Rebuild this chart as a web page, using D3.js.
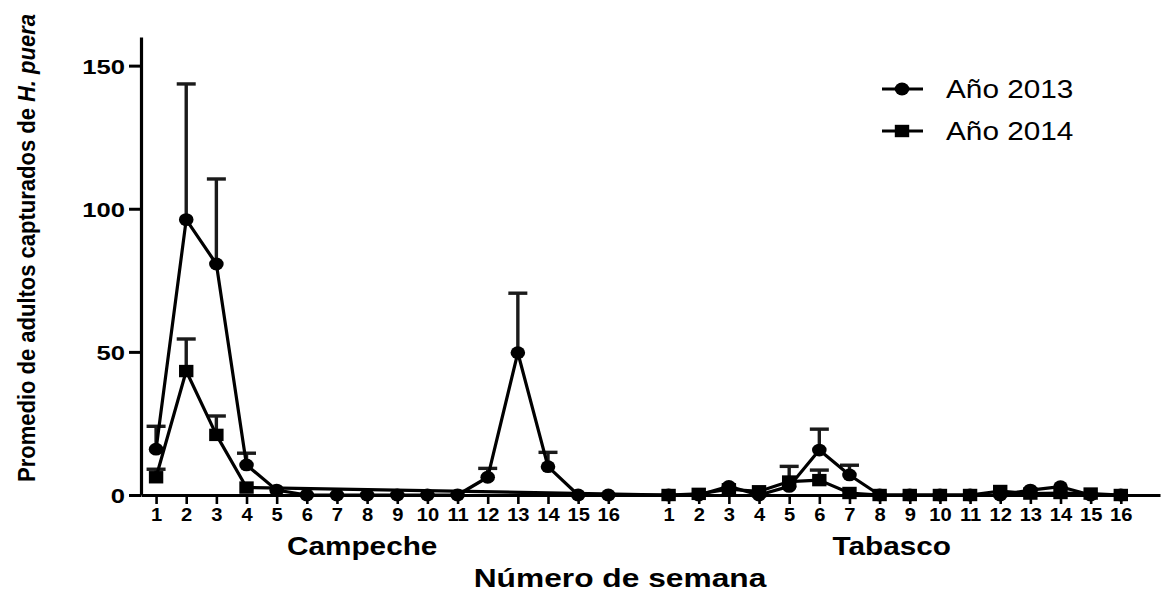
<!DOCTYPE html>
<html>
<head>
<meta charset="utf-8">
<script src="https://cdn.jsdelivr.net/npm/d3@7"></script>
<style>
  body { margin: 0; background: #fff; }
  svg { display: block; font-family: "Liberation Sans", Arial, sans-serif; }
</style>
</head>
<body>
<svg id="chart" width="1163" height="592"></svg>
<script>
// Weekly mean of adult H. puera captured, per site and year (mean and upper SE)
const weeks = [1, 2, 3, 4, 5, 6, 7, 8, 9, 10, 11, 12, 13, 14, 15, 16];
const sites = ["Campeche", "Tabasco"];
const years = ["Año 2013", "Año 2014"];

const campeche2013    = [16, 96.2, 80.7, 10.5, 1.7, 0, 0, 0, 0, 0, 0, 6.2, 49.7, 9.9, 0, 0];
const campeche2013Err = [8, 47.4, 29.7, 4.1, 0, 0, 0, 0, 0, 0, 0, 3.1, 20.8, 5, 0, 0];
const campeche2014    = [6.2, 43.3, 21, 2.6, null, null, null, null, null, null, null, null, null, null, null, null];
const campeche2014Err = [2.8, 11.2, 6.6, 0, 0, 0, 0, 0, 0, 0, 0, 0, 0, 0, 0, 0];

const tabasco2013    = [0, 0, 3, 0, 3, 15.7, 7, 0, 0, 0, 0, 0, 1.7, 2.9, 0, 0];
const tabasco2013Err = [0, 0, 0, 0, 0, 7.3, 3.4, 0, 0, 0, 0, 0, 0, 0, 0, 0];
const tabasco2014    = [0, 0.4, 2, 1.3, 4.7, 5.2, 0.7, 0, 0, 0, 0, 1.4, 0.5, 0.7, 0.5, 0];
const tabasco2014Err = [0, 0, 0, 0, 5.3, 3.5, 0, 0, 0, 0, 0, 0, 0, 0, 0, 0];

const yTicks = [0, 50, 100, 150];
const yTitle = "Promedio de adultos capturados de ";
const yTitleItalic = "H. puera";
const xTitle = "Número de semana";

// ---- layout ----
const svg = d3.select("#chart");
const FONT = '"Liberation Sans", Arial, sans-serif';
const WIDE = 1.19; // horizontal widening of the lettering

// position index: Campeche weeks 0..15, one empty slot, Tabasco weeks 17..32
const posIndex = (siteIdx, week) => siteIdx === 0 ? week - 1 : 16 + week;

const x = d3.scaleLinear().domain([-0.5, 33.3]).range([141, 1160]);
const y = d3.scaleLinear().domain([0, 160]).range([495, 37]);

// each year is one series running through both sites; missing weeks are skipped
function series(siteValues) {
  const pts = [];
  siteValues.forEach(([values, errs], si) => {
    weeks.forEach((w, i) => {
      if (values[i] !== null) pts.push({ i: posIndex(si, w), v: values[i], e: errs[i] });
    });
  });
  return pts;
}

const groups = [
  { year: 1, pts: series([[campeche2014, campeche2014Err], [tabasco2014, tabasco2014Err]]) },
  { year: 0, pts: series([[campeche2013, campeche2013Err], [tabasco2013, tabasco2013Err]]) }
];

// ---- axes ----
const allIdx = [];
sites.forEach((s, si) => weeks.forEach(w => allIdx.push(posIndex(si, w))));
const weekOf = i => i <= 15 ? i + 1 : i - 16;

const xAxis = svg.append("g")
  .attr("transform", `translate(0,${y(0)})`)
  .call(d3.axisBottom(x).tickValues(allIdx).tickSize(9).tickSizeOuter(0).tickFormat(d => weekOf(d)));
xAxis.select(".domain").attr("stroke", "#000").attr("stroke-width", 3.2);
xAxis.selectAll(".tick line").attr("stroke", "#000").attr("stroke-width", 2.6);
xAxis.selectAll(".tick text")
  .attr("y", 0).attr("dy", null)
  .attr("transform", `translate(0,26) scale(1.12,1)`)
  .attr("fill", "#000")
  .style("font", `bold 18px ${FONT}`);

const yAxis = svg.append("g")
  .attr("transform", `translate(${x(-0.5)},0)`)
  .call(d3.axisLeft(y).tickValues(yTicks).tickSize(12).tickSizeOuter(0));
yAxis.select(".domain").attr("stroke", "#000").attr("stroke-width", 3.2);
yAxis.selectAll(".tick line").attr("stroke", "#000").attr("stroke-width", 3);
yAxis.selectAll(".tick text")
  .attr("x", 0).attr("dy", null)
  .attr("transform", `translate(-16,7.5) scale(1.22,1)`)
  .attr("fill", "#000")
  .style("font", `bold 21px ${FONT}`);

// ---- error bars, lines and markers ----
const CAP = 19;
const line = d3.line().x(d => x(d.i)).y(d => y(d.v));

groups.forEach(g => {
  const gg = svg.append("g");
  const withErr = g.pts.filter(d => d.e > 0);
  gg.selectAll("line.stem").data(withErr).join("line")
    .attr("x1", d => x(d.i)).attr("x2", d => x(d.i))
    .attr("y1", d => y(d.v)).attr("y2", d => y(d.v + d.e))
    .attr("stroke", "#1a1a1a").attr("stroke-width", 3.4);
  gg.selectAll("line.cap").data(withErr).join("line")
    .attr("x1", d => x(d.i) - CAP / 2).attr("x2", d => x(d.i) + CAP / 2)
    .attr("y1", d => y(d.v + d.e)).attr("y2", d => y(d.v + d.e))
    .attr("stroke", "#1a1a1a").attr("stroke-width", 3.4);
  gg.append("path").datum(g.pts)
    .attr("d", line).attr("fill", "none")
    .attr("stroke", "#000").attr("stroke-width", 3.2).attr("stroke-linejoin", "round");
  if (g.year === 0) {
    gg.selectAll("ellipse").data(g.pts).join("ellipse")
      .attr("cx", d => x(d.i)).attr("cy", d => y(d.v))
      .attr("rx", 7.3).attr("ry", 6.4).attr("fill", "#000");
  } else {
    gg.selectAll("rect").data(g.pts).join("rect")
      .attr("x", d => x(d.i) - 7.2).attr("y", d => y(d.v) - 6.2)
      .attr("width", 14.4).attr("height", 12.4).attr("fill", "#000");
  }
});

// ---- legend ----
const legend = svg.append("g");
years.forEach((name, k) => {
  const ly = 89 + k * 42;
  legend.append("line").attr("x1", 882).attr("x2", 923).attr("y1", ly).attr("y2", ly)
    .attr("stroke", "#000").attr("stroke-width", 3.2);
  if (k === 0) {
    legend.append("ellipse").attr("cx", 902).attr("cy", ly).attr("rx", 7.3).attr("ry", 6.4).attr("fill", "#000");
  } else {
    legend.append("rect").attr("x", 902 - 7.2).attr("y", ly - 6.2).attr("width", 14.4).attr("height", 12.4).attr("fill", "#000");
  }
  legend.append("text")
    .attr("transform", `translate(946,${ly + 9}) scale(${WIDE},1)`)
    .style("font", `25px ${FONT}`).attr("fill", "#000")
    .text(name);
});

// ---- titles ----
const siteCenters = [
  (x(posIndex(0, 1)) + x(posIndex(0, 16))) / 2 - 20,
  (x(posIndex(1, 1)) + x(posIndex(1, 16))) / 2 - 3
];
sites.forEach((s, si) => {
  svg.append("text")
    .attr("transform", `translate(${siteCenters[si]},555) scale(${WIDE},1)`)
    .attr("text-anchor", "middle")
    .style("font", `bold 25px ${FONT}`).attr("fill", "#000")
    .text(s);
});

svg.append("text")
  .attr("transform", `translate(620,587) scale(1.22,1)`)
  .attr("text-anchor", "middle")
  .style("font", `bold 26px ${FONT}`).attr("fill", "#000")
  .text(xTitle);

const yt = svg.append("text")
  .attr("transform", `translate(35,248) scale(1.06,1) rotate(-90)`)
  .attr("text-anchor", "middle")
  .style("font", `bold 22px ${FONT}`).attr("fill", "#000");
yt.append("tspan").text(yTitle);
yt.append("tspan").style("font-style", "italic").text(yTitleItalic);
</script>
</body>
</html>
